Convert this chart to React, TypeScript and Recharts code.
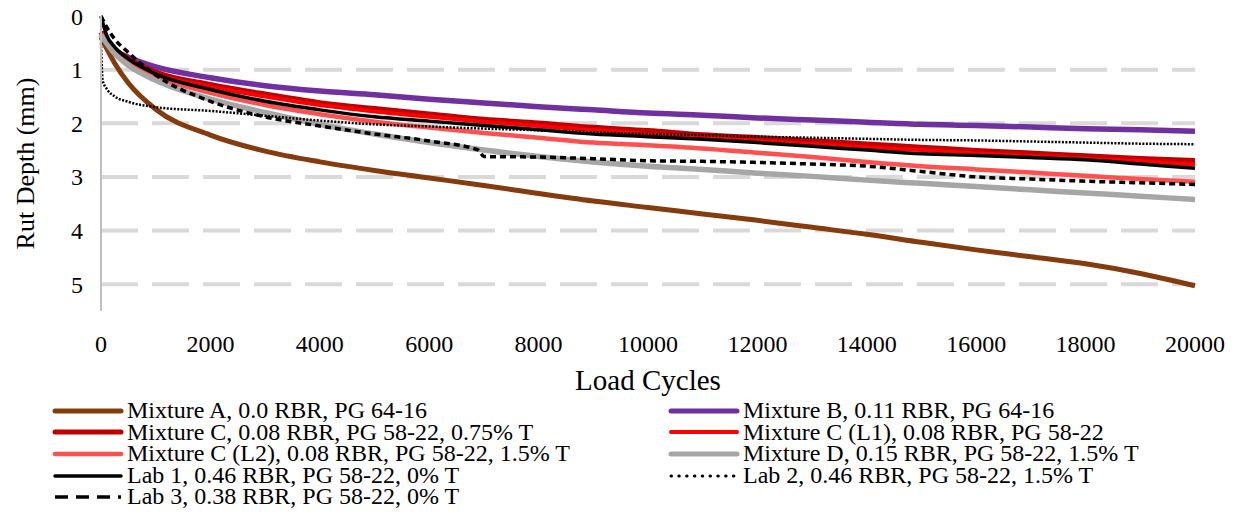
import React from "react";
import { LineChart, Line, XAxis, YAxis, CartesianGrid } from "recharts";

// load cycle grid shared by most of the wheel-tracking curves
const cycles = [
  0, 100, 250, 500, 1000, 2000, 3000, 4000, 5000, 6000, 7000, 8000, 9000,
  10000, 11000, 12000, 13000, 14000, 15000, 16000, 17000, 18000, 19000, 20000,
];
const lab2Cycles = [
  0, 30, 100, 250, 500, 1000, 2000, 3000, 4000, 5000, 6000, 7000, 8000, 9000,
  10000, 11000, 12000, 13000, 14000, 15000, 16000, 17000, 18000, 19000, 20000,
];
const lab3Cycles = [
  0, 100, 250, 500, 1000, 2000, 3000, 4000, 5000, 6000, 6900, 7000, 8000, 9000,
  10000, 11000, 12000, 13000, 14000, 15000, 16000, 17000, 18000, 19000, 20000,
];

// rut depth (mm)
const mixtureA = [
  0.4, 0.6, 0.88, 1.25, 1.74, 2.22, 2.52, 2.72, 2.88, 3.02, 3.16, 3.31, 3.45,
  3.57, 3.69, 3.81, 3.94, 4.07, 4.22, 4.36, 4.49, 4.62, 4.8, 5.03,
];
const mixtureB = [
  0.35, 0.5, 0.64, 0.77, 0.95, 1.15, 1.3, 1.4, 1.47, 1.55, 1.62, 1.69, 1.75,
  1.81, 1.85, 1.9, 1.94, 1.98, 2.02, 2.04, 2.07, 2.1, 2.12, 2.15,
];
const mixtureC = [
  0.3, 0.45, 0.62, 0.8, 1.05, 1.28, 1.46, 1.62, 1.73, 1.83, 1.93, 2.0, 2.08,
  2.14, 2.22, 2.27, 2.33, 2.39, 2.45, 2.51, 2.56, 2.61, 2.66, 2.7,
];
const mixtureCL1 = [
  0.3, 0.45, 0.63, 0.82, 1.08, 1.32, 1.5, 1.66, 1.78, 1.88, 1.97, 2.05, 2.13,
  2.2, 2.27, 2.33, 2.39, 2.45, 2.5, 2.56, 2.61, 2.66, 2.71, 2.77,
];
const mixtureCL2 = [
  0.35, 0.5, 0.68, 0.88, 1.13, 1.43, 1.66, 1.83, 1.97, 2.08, 2.18, 2.27, 2.36,
  2.41, 2.47, 2.55, 2.63, 2.72, 2.8, 2.86, 2.92, 2.98, 3.04, 3.09,
];
const mixtureD = [
  0.35, 0.5, 0.7, 0.92, 1.2, 1.55, 1.8, 2.02, 2.2, 2.36, 2.5, 2.62, 2.72,
  2.8, 2.86, 2.93, 2.99, 3.06, 3.12, 3.18, 3.24, 3.3, 3.36, 3.42,
];
const lab1 = [
  0, 0.35, 0.58, 0.8, 1.08, 1.37, 1.59, 1.75, 1.88, 1.96, 2.04, 2.12, 2.2,
  2.25, 2.3, 2.36, 2.43, 2.5, 2.57, 2.6, 2.64, 2.68, 2.76, 2.84,
];
const lab2 = [
  0.5, 1.2, 1.35, 1.5, 1.6, 1.7, 1.77, 1.86, 1.95, 2.02, 2.06, 2.1, 2.13,
  2.17, 2.2, 2.22, 2.25, 2.27, 2.29, 2.31, 2.32, 2.34, 2.36, 2.38, 2.39,
];
const lab3 = [
  0, 0.2, 0.43, 0.68, 1.1, 1.59, 1.88, 2.05, 2.2, 2.33, 2.5, 2.62, 2.63,
  2.66, 2.7, 2.71, 2.73, 2.76, 2.8, 2.9, 3.0, 3.04, 3.08, 3.11, 3.14,
];

const xTicks = [0, 2000, 4000, 6000, 8000, 10000, 12000, 14000, 16000, 18000, 20000];
const yTicks = [0, 1, 2, 3, 4, 5];
const gridValues = [1, 2, 3, 4, 5];

const toPoints = (xs: number[], ys: number[]) =>
  xs.map((c, i) => ({ cycles: c, depth: ys[i] }));

interface Series {
  name: string;
  color: string;
  width: number;
  keyWidth: number;
  dash?: string;
  keyDash?: string;
  data: { cycles: number; depth: number }[];
}

const series: Series[] = [
  { name: "Mixture A, 0.0 RBR, PG 64-16", color: "#843C0C", width: 5, keyWidth: 5, data: toPoints(cycles, mixtureA) },
  { name: "Mixture B, 0.11 RBR, PG 64-16", color: "#7030A0", width: 5.5, keyWidth: 5, data: toPoints(cycles, mixtureB) },
  { name: "Mixture C, 0.08 RBR, PG 58-22, 0.75% T", color: "#C00000", width: 5.5, keyWidth: 5, data: toPoints(cycles, mixtureC) },
  { name: "Mixture C (L1), 0.08 RBR, PG 58-22", color: "#FF0000", width: 4, keyWidth: 4, data: toPoints(cycles, mixtureCL1) },
  { name: "Mixture C (L2), 0.08 RBR, PG 58-22, 1.5% T", color: "#FF5050", width: 4.5, keyWidth: 4.5, data: toPoints(cycles, mixtureCL2) },
  { name: "Mixture D, 0.15 RBR, PG 58-22, 1.5% T", color: "#A6A6A6", width: 5.5, keyWidth: 5, data: toPoints(cycles, mixtureD) },
  { name: "Lab 1, 0.46 RBR, PG 58-22, 0% T", color: "#000000", width: 3.5, keyWidth: 3.5, data: toPoints(cycles, lab1) },
  { name: "Lab 2, 0.46 RBR, PG 58-22, 1.5% T", color: "#000000", width: 2.5, keyWidth: 3, dash: "2 1.5", keyDash: "0.5 7.3", data: toPoints(lab2Cycles, lab2) },
  { name: "Lab 3, 0.38 RBR, PG 58-22, 0% T", color: "#000000", width: 3.5, keyWidth: 3.5, dash: "6 4", keyDash: "13 8", data: toPoints(lab3Cycles, lab3) },
];

const font = "'Liberation Serif', 'Times New Roman', serif";

const LegendRow = ({ s }: { s: Series }) => (
  <div style={{ display: "flex", alignItems: "center", height: 21.6 }}>
    <svg width={72} height={12} style={{ flex: "none" }}>
      <line
        x1={3}
        y1={6}
        x2={69}
        y2={6}
        stroke={s.color}
        strokeWidth={s.keyWidth}
        strokeDasharray={s.keyDash}
        strokeLinecap={s.keyDash === "13 8" ? "butt" : "round"}
      />
    </svg>
    <span style={{ display: "block", marginLeft: 3, height: 21.6, lineHeight: "21.6px", whiteSpace: "nowrap" }}>
      {s.name}
    </span>
  </div>
);

const App = () => {
  return (
    <div style={{ width: 1229, marginTop: -8, fontFamily: font, color: "#000" }}>
      <LineChart width={1229} height={400} margin={{ top: 16, right: 42, bottom: 0, left: 0 }}>
        <CartesianGrid
          vertical={false}
          horizontalValues={gridValues}
          stroke="#D9D9D9"
          strokeWidth={4}
          strokeDasharray="37 14"
        />
        <XAxis
          dataKey="cycles"
          type="number"
          domain={[0, 20000]}
          ticks={xTicks}
          interval={0}
          axisLine={false}
          tickLine={false}
          tickSize={0}
          tickMargin={24}
          height={89}
          tick={{ fill: "#000", fontSize: 24, fontFamily: font }}
          label={{ value: "Load Cycles", position: "insideBottom", offset: 10, style: { fill: "#000", fontSize: 29, fontFamily: font } }}
        />
        {/* solid line along the top edge, where the reversed value axis starts */}
        <XAxis
          xAxisId="top"
          orientation="top"
          type="number"
          domain={[0, 20000]}
          height={0}
          tick={false}
          tickLine={false}
          axisLine={{ stroke: "#CFCFCF", strokeWidth: 2 }}
        />
        <YAxis
          type="number"
          reversed
          domain={[0, 5.5]}
          ticks={yTicks}
          interval={0}
          width={93}
          axisLine={{ stroke: "#BFBFBF", strokeWidth: 2 }}
          tickLine={false}
          tickSize={0}
          tickMargin={18}
          tick={{ fill: "#000", fontSize: 24, fontFamily: font }}
          label={{ value: "Rut Depth (mm)", angle: -90, position: "insideLeft", offset: 17, style: { fill: "#000", fontSize: 26, fontFamily: font, textAnchor: "middle" } }}
        />
        {series.map((s) => (
          <Line
            key={s.name}
            data={s.data}
            dataKey="depth"
            name={s.name}
            type="monotone"
            stroke={s.color}
            strokeWidth={s.width}
            strokeDasharray={s.dash}
            dot={false}
            isAnimationActive={false}
          />
        ))}
      </LineChart>
      <div style={{ display: "grid", gridTemplateColumns: "616px 570px", paddingLeft: 44, fontSize: 24 }}>
        {series.map((s) => (
          <LegendRow key={s.name} s={s} />
        ))}
      </div>
    </div>
  );
};

export default App;
